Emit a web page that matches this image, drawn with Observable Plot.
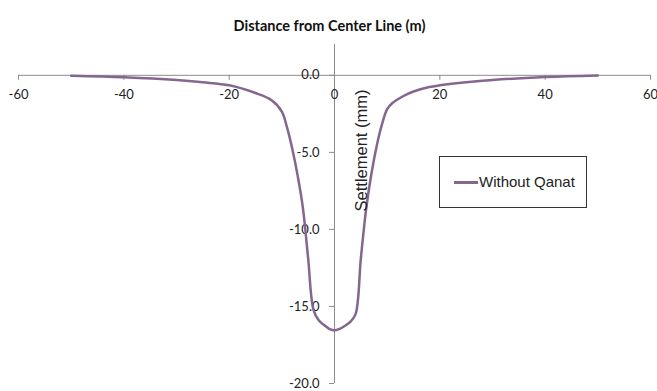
<!DOCTYPE html>
<html>
<head>
<meta charset="utf-8">
<script src="https://cdn.jsdelivr.net/npm/d3@7"></script>
<script src="https://cdn.jsdelivr.net/npm/@observablehq/plot@0.6"></script>
<style>
  html, body { margin: 0; padding: 0; background: #fff; overflow: hidden; }
  #wrap { position: relative; width: 657px; height: 391px; }
  #legend { position: absolute; left: 439px; top: 156px; width: 148px; height: 52px; box-sizing: border-box; border: 1px solid #333; background: #fff; }
  #legend .sw { position: absolute; left: 14px; top: 24px; width: 24px; height: 3px; }
  #legend .lb { position: absolute; left: 39px; top: 16px; font: 15px "Liberation Sans", Arial, sans-serif; color: #222; line-height: 18px; white-space: nowrap; }
</style>
</head>
<body>
<div id="wrap"></div>
<script>
// Data
const distance = [-50, -40, -30, -25, -20, -15, -12, -10, -9, -8, -7, -6, -5, -4, -3, -2, -1, 0, 1, 2, 3, 4, 5, 6, 7, 8, 9, 10, 11, 13, 15, 18, 20, 25, 30, 40, 50];
const settlement = [-0.02, -0.12, -0.3, -0.45, -0.65, -1.15, -1.6, -2.35, -3.4, -4.8, -6.5, -8.6, -11.9, -15.2, -15.9, -16.2, -16.45, -16.55, -16.45, -16.25, -16.0, -15.5, -11.9, -8.7, -6.4, -4.6, -3.2, -2.2, -1.8, -1.36, -1.05, -0.76, -0.65, -0.45, -0.3, -0.11, -0.01];
const seriesName = "Without Qanat";
const xTicks = [-60, -40, -20, 0, 20, 40, 60];
const yTicks = [0, -5, -10, -15, -20];
const chartTitle = "Distance from Center Line (m)";
const yTitle = "Settlement (mm)";

const lineColor = "#84668f";
const axisColor = "#8c8c8c";
const data = distance.map((x, i) => ({x, y: settlement[i]}));

const chart = Plot.plot({
  width: 657,
  height: 391,
  marginLeft: 18,
  marginRight: 7,
  marginTop: 44,
  marginBottom: 8,
  style: {fontFamily: "Lato, sans-serif", background: "#fff", overflow: "visible"},
  x: {domain: [-60, 60], axis: null},
  y: {domain: [-20, 2], axis: null},
  marks: [
    Plot.ruleY([0], {stroke: axisColor, strokeWidth: 1}),
    Plot.ruleX([0], {stroke: axisColor, strokeWidth: 1}),
    Plot.ruleX(xTicks, {x: d => d, y1: () => 0, y2: () => 0, insetBottom: -5, insetTop: 0, stroke: axisColor}),
    Plot.ruleY(yTicks, {y: d => d, x1: () => 0, x2: () => 0, insetLeft: -5, insetRight: 0, stroke: axisColor}),
    Plot.text(xTicks, {x: d => d, y: () => 0, dy: 20, text: d => String(d), fontSize: 13, fill: "#222"}),
    Plot.text(yTicks, {x: () => 0, y: d => d, dx: -15, textAnchor: "end", text: d => d.toFixed(1), fontSize: 13, fill: "#222"}),
    Plot.line(data, {x: "x", y: "y", stroke: lineColor, strokeWidth: 2.5, curve: "catmull-rom"}),
    Plot.text([chartTitle], {frameAnchor: "top", dy: -24, dx: -5, text: d => d, fontSize: 14.5, fontWeight: "bold", fill: "#111"}),
    Plot.text([yTitle], {x: () => 0, frameAnchor: "top", dy: 106, dx: 21, rotate: -90, text: d => d, fontSize: 16.5, fontFamily: "Liberation Sans, Arial, sans-serif", fill: "#222"})
  ]
});

const wrap = document.getElementById("wrap");
wrap.appendChild(chart);
const legend = document.createElement("div");
legend.id = "legend";
legend.innerHTML = `<div class="sw" style="background:${lineColor}"></div><div class="lb">${seriesName}</div>`;
wrap.appendChild(legend);
</script>
</body>
</html>
